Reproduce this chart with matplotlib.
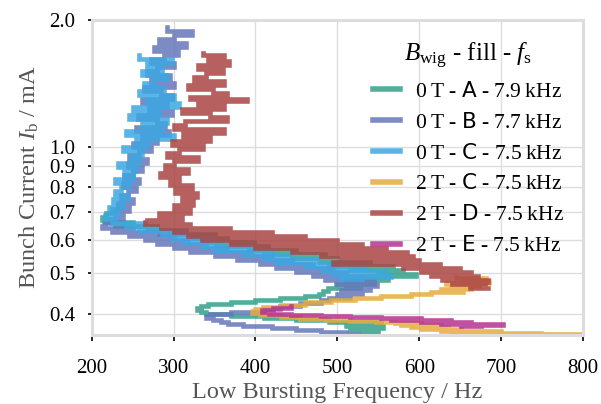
import matplotlib
matplotlib.use("Agg")
import matplotlib.pyplot as plt
from matplotlib.ticker import FixedLocator, NullLocator, FixedFormatter

plt.rcParams['font.family'] = ['Liberation Serif', 'DejaVu Sans']
plt.rcParams['mathtext.fontset'] = 'custom'
plt.rcParams['mathtext.rm'] = 'Liberation Serif'
plt.rcParams['mathtext.it'] = 'Liberation Serif:italic'
plt.rcParams['mathtext.bf'] = 'Liberation Serif:bold'
plt.rcParams['mathtext.sf'] = 'DejaVu Sans'

# ---------------- data (bunch current in mA, frequency in Hz) ----------------
current_0T_A = [0.727, 0.711, 0.696, 0.681, 0.670, 0.662, 0.655, 0.648, 0.641, 0.634,
                0.627, 0.620, 0.614, 0.607, 0.600, 0.594, 0.587, 0.581, 0.574, 0.568,
                0.562, 0.556, 0.550, 0.544, 0.538, 0.532, 0.526, 0.521, 0.515, 0.509,
                0.504, 0.498, 0.493, 0.488, 0.482, 0.477, 0.472, 0.467, 0.462, 0.454,
                0.447, 0.442, 0.437, 0.432, 0.428, 0.423, 0.418, 0.414, 0.409, 0.405,
                0.400, 0.396, 0.392, 0.387, 0.383, 0.379, 0.375, 0.371, 0.367, 0.363]
freq_0T_A = [232, 225, 218, 212, 215, 250, 228, 280, 268, 315,
             282, 350, 322, 365, 340, 398, 352, 415, 392, 450,
             410, 485, 445, 500, 478, 540, 490, 568, 515, 580,
             550, 596, 535, 562, 510, 545, 498, 528, 488, 482,
             478, 460, 430, 400, 370, 342, 333, 329, 333, 340,
             370, 410, 450, 490, 553, 510, 556, 515, 550, 530]

current_0T_B = [1.925, 1.884, 1.843, 1.803, 1.764, 1.726, 1.689, 1.652, 1.616, 1.581,
                1.547, 1.513, 1.481, 1.449, 1.417, 1.386, 1.356, 1.327, 1.298, 1.270,
                1.243, 1.216, 1.190, 1.164, 1.139, 1.114, 1.090, 1.066, 1.043, 1.020,
                0.998, 0.977, 0.956, 0.935, 0.915, 0.895, 0.876, 0.857, 0.838, 0.820,
                0.802, 0.785, 0.768, 0.751, 0.735, 0.719, 0.703, 0.688, 0.673, 0.659,
                0.648, 0.641, 0.634, 0.627, 0.620, 0.614, 0.607, 0.600, 0.594, 0.587,
                0.581, 0.574, 0.568, 0.562, 0.556, 0.550, 0.544, 0.538, 0.532, 0.526,
                0.521, 0.515, 0.509, 0.504, 0.498, 0.493, 0.488, 0.482, 0.477, 0.472,
                0.467, 0.462, 0.457, 0.452, 0.447, 0.442, 0.437, 0.432, 0.425, 0.418,
                0.411, 0.405, 0.400, 0.396, 0.392, 0.387, 0.383, 0.379, 0.375, 0.371,
                0.367, 0.363, 0.359]
freq_0T_B = [292, 322, 300, 282, 315, 276, 305, 288, 272, 300,
             280, 268, 296, 272, 300, 264, 285, 298, 262, 292,
             270, 298, 256, 280, 290, 254, 295, 262, 280, 250,
             272, 258, 246, 268, 244, 262, 250, 240, 258, 238,
             254, 244, 236, 250, 232, 246, 228, 238, 222, 216,
             212, 250, 225, 280, 245, 300, 265, 318, 280, 340,
             300, 365, 320, 395, 350, 420, 378, 445, 405, 470,
             425, 495, 450, 510, 470, 530, 485, 545, 500, 549,
             510, 540, 505, 530, 500, 515, 490, 480, 455, 430,
             410, 370, 345, 340, 348, 358, 366, 385, 420, 450,
             480, 510, 525]

current_0T_C = [1.652, 1.616, 1.581, 1.547, 1.513, 1.481, 1.449, 1.417, 1.386, 1.356,
                1.327, 1.298, 1.270, 1.243, 1.216, 1.190, 1.164, 1.139, 1.114, 1.090,
                1.066, 1.043, 1.020, 0.998, 0.977, 0.956, 0.935, 0.915, 0.895, 0.876,
                0.857, 0.838, 0.820, 0.802, 0.785, 0.768, 0.751, 0.735, 0.719, 0.703,
                0.688, 0.673, 0.666, 0.659, 0.652, 0.645, 0.638, 0.631, 0.624, 0.617,
                0.610, 0.604, 0.597, 0.590, 0.584, 0.578, 0.571, 0.565, 0.559, 0.553,
                0.547, 0.541, 0.535, 0.529, 0.524, 0.518, 0.513, 0.507, 0.501, 0.496,
                0.490, 0.485]
freq_0T_C = [258, 298, 268, 286, 262, 292, 276, 264, 288, 258,
             300, 268, 306, 250, 282, 246, 292, 262, 286, 242,
             300, 254, 268, 238, 262, 248, 258, 232, 254, 240,
             250, 229, 246, 236, 228, 244, 226, 238, 221, 232,
             216, 228, 225, 265, 242, 280, 258, 315, 286, 325,
             298, 350, 312, 358, 336, 395, 350, 420, 385, 442,
             410, 475, 425, 505, 462, 535, 482, 558, 495, 565,
             505, 530]

current_2T_C = [0.490, 0.488, 0.482, 0.480, 0.474, 0.472, 0.467, 0.464, 0.459, 0.457,
                0.452, 0.447, 0.442, 0.437, 0.432, 0.428, 0.421, 0.416, 0.412, 0.407,
                0.403, 0.398, 0.394, 0.390, 0.387, 0.385, 0.383, 0.381, 0.379, 0.377,
                0.375, 0.373, 0.371, 0.369, 0.367, 0.365, 0.363, 0.361, 0.359]
freq_2T_C = [645, 682, 651, 685, 633, 673, 639, 663, 627, 653,
             614, 590, 553, 522, 492, 461, 431, 409, 400, 396,
             406, 431, 455, 486, 516, 547, 571, 602, 578, 627,
             590, 635, 602, 651, 627, 700, 639, 749, 800]

current_2T_D = [1.670, 1.652, 1.634, 1.599, 1.564, 1.530, 1.497, 1.464, 1.433, 1.402,
                1.371, 1.341, 1.313, 1.298, 1.284, 1.256, 1.229, 1.203, 1.176, 1.151,
                1.126, 1.102, 1.078, 1.054, 1.032, 1.009, 0.987, 0.966, 0.945, 0.925,
                0.905, 0.885, 0.866, 0.847, 0.829, 0.811, 0.793, 0.776, 0.759, 0.743,
                0.727, 0.711, 0.696, 0.681, 0.670, 0.662, 0.655, 0.648, 0.641, 0.634,
                0.627, 0.620, 0.614, 0.607, 0.600, 0.594, 0.587, 0.581, 0.574, 0.568,
                0.562, 0.556, 0.550, 0.544, 0.538, 0.532, 0.526, 0.521, 0.515, 0.509,
                0.504, 0.498, 0.493, 0.488, 0.482, 0.477, 0.472, 0.467, 0.462]
freq_2T_D = [336, 361, 342, 368, 330, 360, 340, 325, 362, 318,
             348, 365, 320, 390, 330, 362, 310, 345, 365, 314,
             300, 362, 312, 345, 298, 336, 306, 292, 330, 300,
             290, 318, 284, 306, 296, 322, 302, 328, 310, 324,
             300, 320, 282, 310, 268, 265, 320, 285, 369, 300,
             420, 318, 460, 335, 500, 370, 530, 400, 560, 445,
             585, 480, 592, 505, 600, 495, 625, 580, 650, 602,
             663, 615, 672, 628, 684, 640, 680, 662, 684]

current_2T_E = [0.418, 0.414, 0.409, 0.405, 0.400, 0.398, 0.396, 0.394, 0.392, 0.390,
                0.387, 0.385, 0.383, 0.381, 0.379, 0.377, 0.375]
freq_2T_E = [443, 421, 408, 416, 443, 480, 516, 553, 602, 565,
             639, 602, 663, 627, 702, 651, 676]

labels = [r"$0\;\mathrm{T}$ - $\mathsf{A}$ - $7.9\;\mathrm{kHz}$",
          r"$0\;\mathrm{T}$ - $\mathsf{B}$ - $7.7\;\mathrm{kHz}$",
          r"$0\;\mathrm{T}$ - $\mathsf{C}$ - $7.5\;\mathrm{kHz}$",
          r"$2\;\mathrm{T}$ - $\mathsf{C}$ - $7.5\;\mathrm{kHz}$",
          r"$2\;\mathrm{T}$ - $\mathsf{D}$ - $7.5\;\mathrm{kHz}$",
          r"$2\;\mathrm{T}$ - $\mathsf{E}$ - $7.5\;\mathrm{kHz}$"]
colors = ['#33A08A', '#6677BB', '#3DA7E2', '#E4AC3D', '#AA4444', '#B5318F']

x_ticks = [200, 300, 400, 500, 600, 700, 800]
y_ticks = [0.4, 0.5, 0.6, 0.7, 0.8, 0.9, 1.0, 2.0]
y_ticklabels = ["0.4", "0.5", "0.6", "0.7", "0.8", "0.9", "1.0", "2.0"]

series = [(freq_0T_A, current_0T_A), (freq_0T_B, current_0T_B), (freq_0T_C, current_0T_C),
          (freq_2T_C, current_2T_C), (freq_2T_D, current_2T_D), (freq_2T_E, current_2T_E)]

# ---------------- figure ----------------
fig = plt.figure(figsize=(6.01, 4.04), dpi=100)
ax = fig.add_axes([0.1526, 0.1708, 0.8174, 0.7797])

for (f, c), lab, col in zip(series, labels, colors):
    ax.plot(f, c, color=col, lw=3.3, alpha=0.85, label=lab, drawstyle='steps-pre',
            solid_joinstyle='miter')

ax.set_yscale('log')
ax.set_xlim(200, 800)
ax.set_ylim(0.357, 2.0)
ax.xaxis.set_major_locator(FixedLocator(x_ticks))
ax.yaxis.set_major_locator(FixedLocator(y_ticks))
ax.yaxis.set_major_formatter(FixedFormatter(y_ticklabels))
ax.yaxis.set_minor_locator(NullLocator())
ax.xaxis.set_minor_locator(NullLocator())

ax.grid(True, color='#dddddd', lw=1.0)
ax.set_axisbelow(True)
for sp in ax.spines.values():
    sp.set_color('#dddddd')
    sp.set_linewidth(2.2)

ax.tick_params(axis='both', labelsize=15, color='black', width=1.2)
ax.tick_params(axis='x', length=4, pad=13)
ax.tick_params(axis='y', length=3, pad=9)

ax.set_xlabel("Low Bursting Frequency / Hz", fontsize=17.5, color='#555555', labelpad=3)
ax.set_ylabel(r"Bunch Current $I_\mathrm{b}$ / mA", fontsize=17.5, color='#555555', labelpad=6)

leg = ax.legend(title=r"$B_\mathrm{wig}$ - fill - $f_\mathrm{s}$", loc='upper right',
                bbox_to_anchor=(1.0, 0.995), frameon=False, fontsize=15.5,
                title_fontsize=18, handlelength=1.25, handletextpad=0.7,
                labelspacing=0.5)
for h in leg.get_lines():
    h.set_linewidth(4)
    h.set_drawstyle('default')

fig.savefig("out.png", dpi=100)
